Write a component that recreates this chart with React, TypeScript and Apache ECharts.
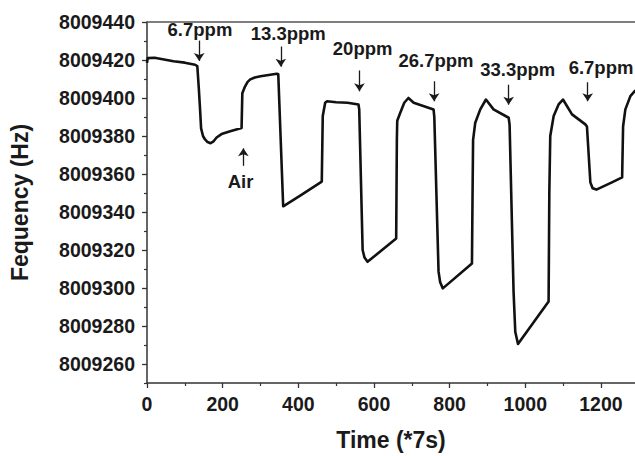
import React, { useEffect, useRef } from "react";
import * as echarts from "echarts";

// Time (*7s) and frequency (Hz)
const timeData = [
  0, 2, 20, 70, 100, 127, 133, 137, 140, 143, 148, 153, 160, 168, 175, 184, 197, 220, 250,
  252, 259, 266, 273, 285, 300, 343, 347,
  360, 405, 462,
  464.6, 471, 476, 500, 530, 559,
  561, 570, 575, 583, 658.7,
  660.5, 661.5, 669, 680, 691, 705, 757.5,
  759.5, 770.7, 775, 782, 859,
  860.6, 862, 867.7, 881, 896, 916, 956,
  958.5, 969, 973.5, 980.7, 1061.6,
  1063.5, 1066, 1075, 1088, 1099.6, 1123.5, 1158.7,
  1163, 1172, 1178, 1188, 1229, 1256,
  1258.5, 1264.5, 1277.8, 1291,
];
const freqData = [
  8009418.5, 8009421, 8009421.2, 8009419.3, 8009418.6, 8009417.5, 8009416.8, 8009405, 8009395, 8009384, 8009380, 8009378.3, 8009376.8, 8009376.2, 8009377, 8009379.2, 8009381, 8009382.5, 8009384.2,
  8009402.5, 8009406, 8009408.5, 8009409.8, 8009410.8, 8009411.4, 8009412.8, 8009412.5,
  8009343, 8009348.6, 8009356,
  8009390.5, 8009397.5, 8009398.3, 8009397.8, 8009397.5, 8009396.6,
  8009394, 8009320, 8009316, 8009313.8, 8009326,
  8009378, 8009388, 8009392, 8009397.5, 8009400, 8009397.5, 8009394,
  8009390, 8009308.6, 8009303, 8009299.8, 8009312.9,
  8009350, 8009378, 8009387, 8009394, 8009399.2, 8009394, 8009389.6,
  8009386, 8009298, 8009277, 8009270.5, 8009292.9,
  8009350, 8009380, 8009390.5, 8009396.6, 8009399.2, 8009391.4, 8009386.1,
  8009385, 8009355.6, 8009352.5, 8009351.8, 8009355.6, 8009358.2,
  8009385, 8009394, 8009401, 8009404,
];

const yTickValues = [8009260, 8009280, 8009300, 8009320, 8009340, 8009360, 8009380, 8009400, 8009420, 8009440];
const yMinorTickValues = [8009250, 8009270, 8009290, 8009310, 8009330, 8009350, 8009370, 8009390, 8009410, 8009430];
const xTickValues = [0, 200, 400, 600, 800, 1000, 1200];
const xMinorTickValues = [100, 300, 500, 700, 900, 1100];

const annotationTexts = ["6.7ppm", "13.3ppm", "20ppm", "26.7ppm", "33.3ppm", "6.7ppm", "Air"];
const annotationTimes = [140, 373.5, 570, 764, 980, 1114.6, 247.4];
const annotationFreqs = [8009436, 8009433.8, 8009425.8, 8009419.7, 8009414.9, 8009416, 8009355.8];

const arrowTimes = [138, 353.7, 561.6, 759, 956, 1165, 254.8];
const arrowFrom = [8009430.2, 8009427.1, 8009414.5, 8009408.8, 8009407, 8009408.3, 8009364.3];
const arrowTo = [8009419.5, 8009416.5, 8009403.5, 8009398.3, 8009396.5, 8009398.3, 8009373.5];

const FONT = "'Liberation Sans', Arial, Helvetica, sans-serif";
const INK = "#1a1a1a";
const AXIS = "#333";

export default function App() {
  const ref = useRef<HTMLDivElement>(null);
  useEffect(() => {
    document.body.style.margin = "0";
    const chart = echarts.init(ref.current!, null, { renderer: "svg" });
    const lineData = timeData.map((t, i) => [t, freqData[i]]);
    const labelData = annotationTexts.map((txt, i) => ({
      coord: [annotationTimes[i], annotationFreqs[i]],
      name: txt,
      label: i === 5 ? { align: "left" } : {},
    }));
    const arrows = arrowTimes.map((t, i) => [
      { coord: [t, arrowFrom[i]] },
      { coord: [t, arrowTo[i]] },
    ]);
    const xMin = 0;
    const xMax = 1290;
    const yMin = 8009250;
    const yMax = 8009440;
    chart.setOption({
      animation: false,
      grid: { left: 147, top: 22, right: 0, bottom: 70, containLabel: false },
      xAxis: [
        {
          type: "value",
          min: xMin,
          max: xMax,
          position: "bottom",
          name: "Time (*7s)",
          nameLocation: "middle",
          nameGap: 45,
          nameTextStyle: { fontFamily: FONT, fontWeight: "bold", fontSize: 23, color: INK },
          axisLine: { show: true, onZero: false, lineStyle: { color: AXIS, width: 1.5 } },
          axisTick: { show: true, inside: false, length: 5, customValues: xTickValues, lineStyle: { color: AXIS, width: 1.3 } },
          axisLabel: {
            customValues: xTickValues,
            formatter: (v: number) => String(Math.round(v)),
            fontFamily: FONT,
            fontWeight: "bold",
            fontSize: 19.5,
            color: INK,
            margin: 11,
          },
          splitLine: { show: false },
        },
        {
          type: "value",
          min: xMin,
          max: xMax,
          position: "bottom",
          offset: 0,
          axisLine: { show: false, onZero: false },
          axisTick: { show: true, inside: false, length: 3, customValues: xMinorTickValues, lineStyle: { color: AXIS, width: 1.2 } },
          axisLabel: { show: false },
          splitLine: { show: false },
        },
        {
          type: "value",
          min: xMin,
          max: xMax,
          position: "top",
          axisLine: { show: true, onZero: false, lineStyle: { color: "#555", width: 1.5 } },
          axisTick: { show: false },
          axisLabel: { show: false },
          splitLine: { show: false },
        },
      ],
      yAxis: [
        {
          type: "value",
          min: yMin,
          max: yMax,
          position: "left",
          name: "Fequency (Hz)",
          nameLocation: "middle",
          nameGap: 116,
          nameTextStyle: { fontFamily: FONT, fontWeight: "bold", fontSize: 23, color: INK },
          axisLine: { show: true, onZero: false, lineStyle: { color: AXIS, width: 1.5 } },
          axisTick: { show: true, inside: false, length: 5, customValues: yTickValues, lineStyle: { color: AXIS, width: 1.3 } },
          axisLabel: {
            customValues: yTickValues,
            formatter: (v: number) => String(Math.round(v)),
            fontFamily: FONT,
            fontWeight: "bold",
            fontSize: 19.5,
            color: INK,
            margin: 12,
          },
          splitLine: { show: false },
        },
        {
          type: "value",
          min: yMin,
          max: yMax,
          position: "left",
          offset: 0,
          axisLine: { show: false, onZero: false },
          axisTick: { show: true, inside: false, length: 3, customValues: yMinorTickValues, lineStyle: { color: AXIS, width: 1.2 } },
          axisLabel: { show: false },
          splitLine: { show: false },
        },
      ],
      series: [
        {
          type: "line",
          xAxisIndex: 0,
          yAxisIndex: 0,
          data: lineData,
          showSymbol: false,
          symbol: "none",
          lineStyle: { color: "#111", width: 2.6, join: "round" },
          silent: true,
          markLine: {
            silent: true,
            symbol: ["none", "arrow"],
            symbolSize: 8,
            label: { show: false },
            lineStyle: { color: INK, width: 1.3, type: "solid" },
            emphasis: { disabled: true },
            data: arrows,
          },
          markPoint: {
            silent: true,
            symbol: "circle",
            symbolSize: 0,
            itemStyle: { color: "rgba(0,0,0,0)" },
            emphasis: { disabled: true },
            label: {
              show: true,
              position: [0, 0],
              formatter: (p: any) => p.name,
              fontFamily: FONT,
              fontWeight: "bold",
              fontSize: 18.5,
              color: INK,
              opacity: 1,
              align: "center",
              verticalAlign: "middle",
            },
            data: labelData,
          },
        },
      ],
    });
    return () => chart.dispose();
  }, []);
  return <div ref={ref} style={{ width: 635, height: 456 }} />;
}
